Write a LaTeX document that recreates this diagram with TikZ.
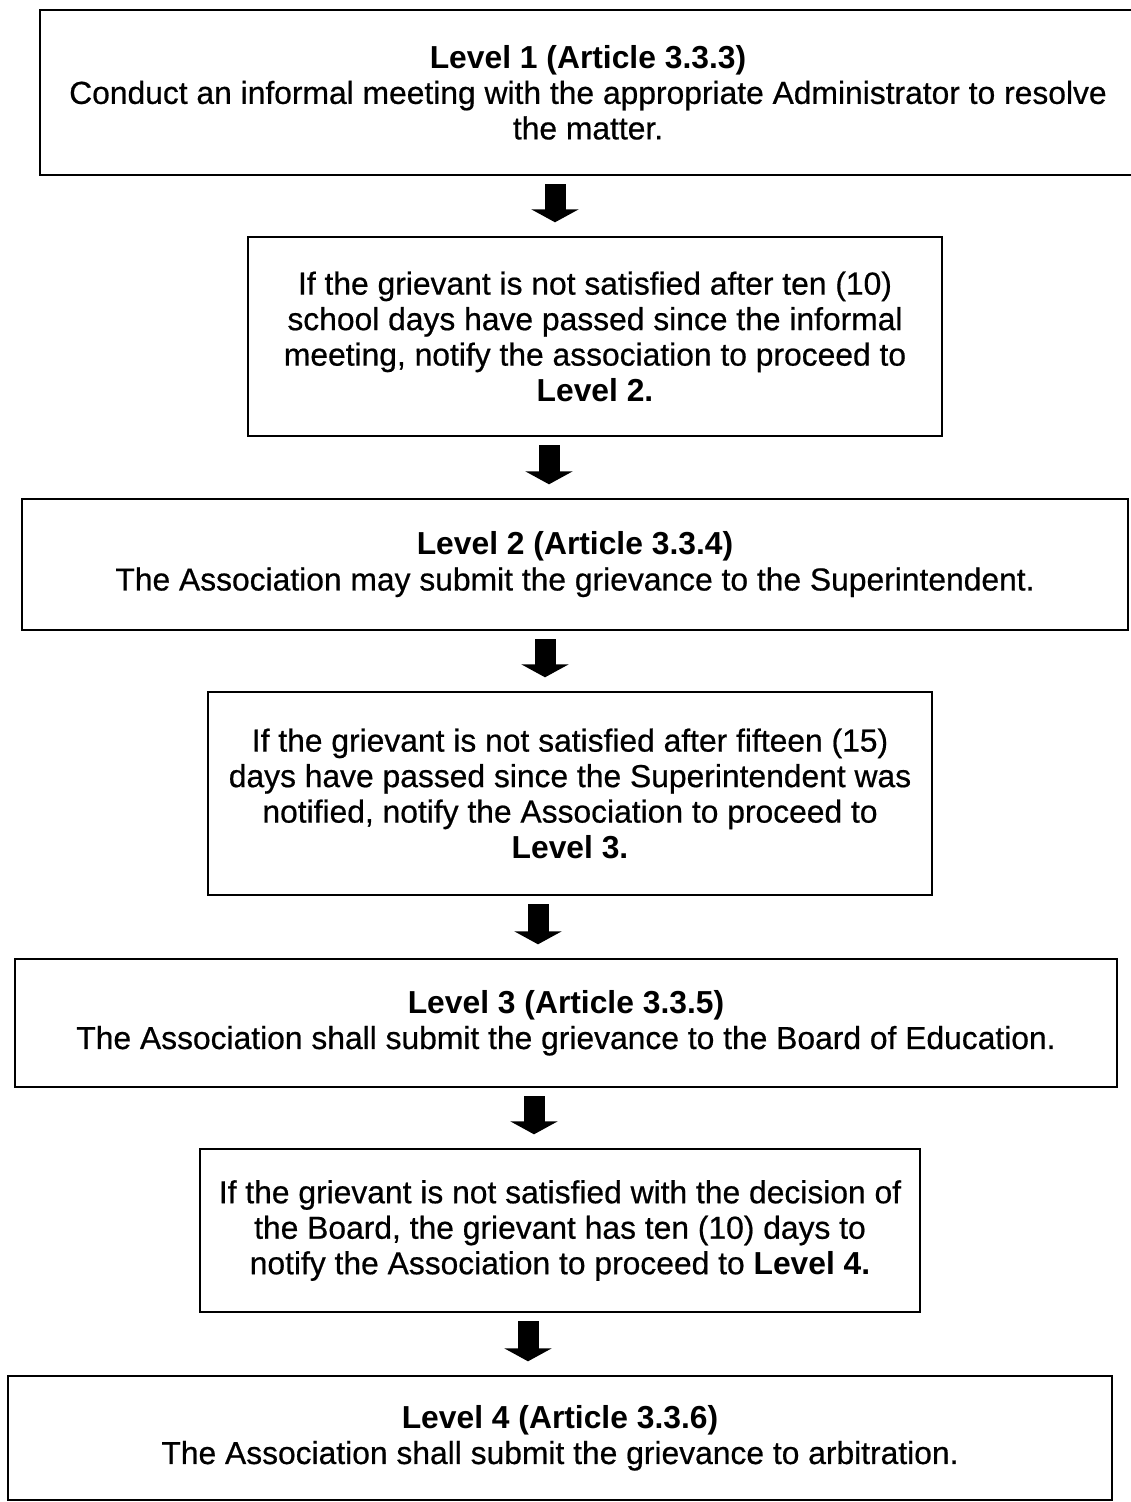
\documentclass[tikz,border=0pt]{standalone}
\usepackage{fontspec}
\setmainfont{Liberation Sans}[UprightFeatures={FakeBold=0.6}]
\usepackage{tikz}
\usetikzlibrary{positioning,arrows.meta}

\begin{document}
\begin{tikzpicture}[
  x=0.5pt, y=-0.5pt,
  box/.style={draw, line width=1.2pt, align=center, inner sep=0pt,
              font=\fontsize{15.9}{17.75}\selectfont},
  fatarrow/.style={line width=10.5pt,
                   -{Triangle[width=23.5pt,length=6.5pt]},
                   shorten <=4pt, shorten >=6.75pt},
]
\useasboundingbox (0,0) rectangle (1130,1502);

% levels and the steps between them
\node[box, minimum width=548pt, minimum height=82.5pt] (lvl1) at (588,92.5)
  {\textbf{Level 1 (Article 3.3.3)}\\
   Conduct an informal meeting with the appropriate Administrator to resolve\\
   the matter.};
\node[box, minimum width=347pt, minimum height=99.5pt] (step1) at (595,336.5)
  {If the grievant is not satisfied after ten (10)\\
   school days have passed since the informal\\
   meeting, notify the association to proceed to\\
   \textbf{Level 2.}};
\node[box, minimum width=553pt, minimum height=65.5pt] (lvl2) at (575,564.5)
  {\textbf{Level 2 (Article 3.3.4)}\\
   The Association may submit the grievance to the Superintendent.};
\node[box, minimum width=362pt, minimum height=101.5pt] (step2) at (570,793.5)
  {If the grievant is not satisfied after fifteen (15)\\
   days have passed since the Superintendent was\\
   notified, notify the Association to proceed to\\
   \textbf{Level 3.}};
\node[box, minimum width=551pt, minimum height=64pt] (lvl3) at (566,1023)
  {\textbf{Level 3 (Article 3.3.5)}\\
   The Association shall submit the grievance to the Board of Education.};
\node[box, minimum width=360pt, minimum height=81.5pt] (step3) at (560,1230.5)
  {If the grievant is not satisfied with the decision of\\
   the Board, the grievant has ten (10) days to\\
   notify the Association to proceed to \textbf{Level 4.}};
\node[box, minimum width=552pt, minimum height=62pt] (lvl4) at (560,1438)
  {\textbf{Level 4 (Article 3.3.6)}\\
   The Association shall submit the grievance to arbitration.};

% arrow columns
\coordinate (c1) at (555,0);
\coordinate (c2) at (549,0);
\coordinate (c3) at (545,0);
\coordinate (c4) at (538,0);
\coordinate (c5) at (534,0);
\coordinate (c6) at (528,0);

\draw[fatarrow] (lvl1.south -| c1) -- (step1.north -| c1);
\draw[fatarrow] (step1.south -| c2) -- (lvl2.north -| c2);
\draw[fatarrow] (lvl2.south -| c3) -- (step2.north -| c3);
\draw[fatarrow] (step2.south -| c4) -- (lvl3.north -| c4);
\draw[fatarrow] (lvl3.south -| c5) -- (step3.north -| c5);
\draw[fatarrow] (step3.south -| c6) -- (lvl4.north -| c6);
\end{tikzpicture}
\end{document}
